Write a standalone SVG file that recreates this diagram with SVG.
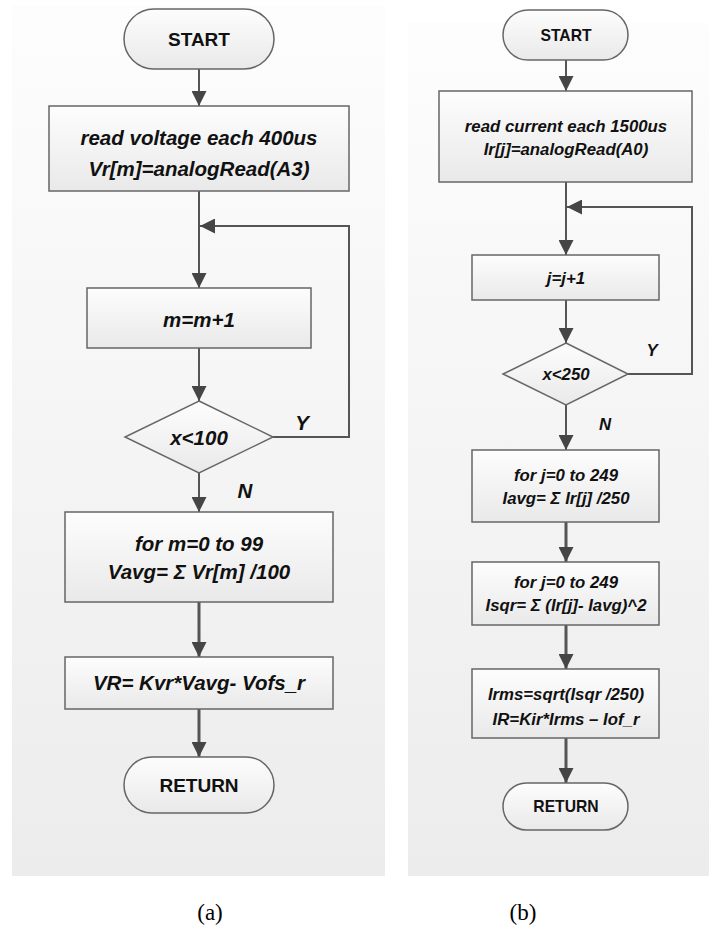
<svg xmlns="http://www.w3.org/2000/svg" width="709" height="930" viewBox="0 0 709 930">
<defs>
<linearGradient id="bg" x1="0" y1="0" x2="0" y2="1">
<stop offset="0" stop-color="#fdfdfd"/>
<stop offset="1" stop-color="#ececec"/>
</linearGradient>
<linearGradient id="nf" x1="0" y1="0" x2="0" y2="1">
<stop offset="0" stop-color="#fdfdfd"/>
<stop offset="1" stop-color="#e9e9e9"/>
</linearGradient>
<marker id="ah" viewBox="0 0 16 16" refX="16" refY="8" markerWidth="16" markerHeight="15" orient="auto" markerUnits="userSpaceOnUse">
<path d="M0,0 L16,8 L0,16 z" fill="#454545"/>
</marker>
</defs>
<style>
.node{fill:url(#nf);stroke:#666;stroke-width:1.5}
.ln{fill:none;stroke:#555;stroke-width:2}
.lt{fill:none;stroke:#555;stroke-width:3}
.ta{font-family:"Liberation Sans",Arial,sans-serif;font-weight:bold;font-style:italic;font-size:20.5px;fill:#111;text-anchor:middle;dominant-baseline:central}
.tb{font-family:"Liberation Sans",Arial,sans-serif;font-weight:bold;font-style:italic;font-size:16.8px;fill:#111;text-anchor:middle;dominant-baseline:central}
.sa{font-family:"Liberation Sans",Arial,sans-serif;font-weight:bold;font-size:19px;fill:#111;text-anchor:middle;dominant-baseline:central}
.sb{font-family:"Liberation Sans",Arial,sans-serif;font-weight:bold;font-size:15.7px;fill:#111;text-anchor:middle;dominant-baseline:central}
.cap{font-family:"Liberation Serif","Times New Roman",serif;font-size:23px;fill:#000;text-anchor:middle}
</style>
<rect x="0" y="0" width="709" height="930" fill="#ffffff"/>
<rect x="12" y="5" width="373" height="871" fill="url(#bg)"/>
<rect x="408" y="23" width="301" height="853" fill="url(#bg)"/>

<g id="connectors">
<line class="ln" x1="199" y1="69" x2="199" y2="106" marker-end="url(#ah)"/>
<line class="ln" x1="199" y1="191" x2="199" y2="288" marker-end="url(#ah)"/>
<path class="ln" d="M273,437 H349 V226 H200" marker-end="url(#ah)"/>
<line class="ln" x1="199" y1="348" x2="199" y2="401" marker-end="url(#ah)"/>
<line class="ln" x1="199" y1="473" x2="199" y2="512" marker-end="url(#ah)"/>
<line class="lt" x1="199" y1="602" x2="199" y2="657" marker-end="url(#ah)"/>
<line class="lt" x1="199" y1="709" x2="199" y2="757" marker-end="url(#ah)"/>

<line class="ln" x1="566" y1="60" x2="566" y2="91" marker-end="url(#ah)"/>
<line class="ln" x1="566" y1="182" x2="566" y2="255" marker-end="url(#ah)"/>
<path class="ln" d="M628,374 H692 V207 H567" marker-end="url(#ah)"/>
<line class="ln" x1="566" y1="300" x2="566" y2="343" marker-end="url(#ah)"/>
<line class="ln" x1="566" y1="405" x2="566" y2="450" marker-end="url(#ah)"/>
<line class="lt" x1="566" y1="522" x2="566" y2="562" marker-end="url(#ah)"/>
<line class="lt" x1="566" y1="625" x2="566" y2="669" marker-end="url(#ah)"/>
<line class="lt" x1="566" y1="738" x2="566" y2="783" marker-end="url(#ah)"/>
</g>

<g id="a_start"><rect class="node" x="124" y="9" width="150" height="60" rx="30"/><text class="sa" x="199" y="39">START</text></g>
<g id="a_read"><rect class="node" x="49" y="106" width="300" height="85"/><text class="ta" x="199" y="137">read voltage each 400us</text><text class="ta" x="199" y="168">Vr[m]=analogRead(A3)</text></g>
<g id="a_inc"><rect class="node" x="87" y="288" width="224" height="60"/><text class="ta" x="199" y="319">m=m+1</text></g>
<g id="a_dec"><polygon class="node" points="199,401 273,437 199,473 125,437"/><text class="ta" x="199" y="437">x&lt;100</text></g>
<g id="a_avg"><rect class="node" x="65" y="512" width="268" height="90"/><text class="ta" x="199" y="543">for m=0 to 99</text><text class="ta" x="199" y="571">Vavg= Σ Vr[m] /100</text></g>
<g id="a_vr"><rect class="node" x="65" y="657" width="268" height="52"/><text class="ta" x="199" y="682">VR= Kvr*Vavg- Vofs_r</text></g>
<g id="a_ret"><rect class="node" x="124" y="757" width="150" height="56" rx="28"/><text class="sa" x="199" y="785">RETURN</text></g>
<text class="ta" x="302" y="422">Y</text>
<text class="ta" x="245" y="490">N</text>
<text class="cap" x="210" y="920">(a)</text>

<g id="b_start"><rect class="node" x="503" y="10" width="125" height="50" rx="25"/><text class="sb" x="566" y="35">START</text></g>
<g id="b_read"><rect class="node" x="439" y="91" width="253" height="91"/><text class="tb" x="566" y="126">read current each 1500us</text><text class="tb" x="566" y="149">Ir[j]=analogRead(A0)</text></g>
<g id="b_inc"><rect class="node" x="472" y="255" width="187" height="45"/><text class="tb" x="566" y="278">j=j+1</text></g>
<g id="b_dec"><polygon class="node" points="566,343 628,374 566,405 503,374"/><text class="tb" x="566" y="374">x&lt;250</text></g>
<g id="b_avg"><rect class="node" x="472" y="450" width="187" height="72"/><text class="tb" x="566" y="475">for j=0 to 249</text><text class="tb" x="566" y="498">Iavg= Σ Ir[j] /250</text></g>
<g id="b_sqr"><rect class="node" x="472" y="562" width="187" height="63"/><text class="tb" x="566" y="582">for j=0 to 249</text><text class="tb" x="566" y="605">Isqr= Σ (Ir[j]- Iavg)^2</text></g>
<g id="b_rms"><rect class="node" x="472" y="669" width="187" height="69"/><text class="tb" x="566" y="694">Irms=sqrt(Isqr /250)</text><text class="tb" x="566" y="719">IR=Kir*Irms – Iof_r</text></g>
<g id="b_ret"><rect class="node" x="503" y="783" width="125" height="47" rx="23.5"/><text class="sb" x="566" y="806">RETURN</text></g>
<text class="tb" x="652" y="350">Y</text>
<text class="tb" x="605" y="424">N</text>
<text class="cap" x="523" y="920">(b)</text>
</svg>
